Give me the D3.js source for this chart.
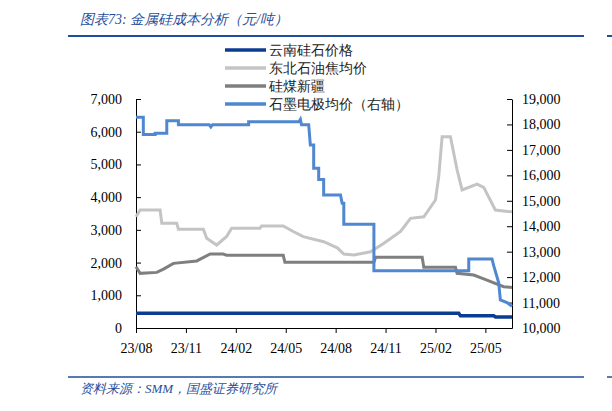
<!DOCTYPE html>
<html><head><meta charset="utf-8">
<script src="https://cdn.jsdelivr.net/npm/d3@7"></script>
<style>body{margin:0;background:#fff}svg{display:block}text{font-family:"Liberation Serif","DejaVu Serif",serif}</style>
</head><body><svg id="c" width="612" height="411"></svg>
<script>
// month index from 2023/08
const xTickLabels = ["23/08","23/11","24/02","24/05","24/08","24/11","25/02","25/05"];
const yunnan = [[0,448],[19.4,448],[19.5,377],[21.5,377],[21.6,340],[22.6,340]];
const petcoke = [[0,3400],[0.25,3607],[1.45,3607],[1.55,3200],[2.45,3200],[2.55,3017],[4.05,3017],[4.25,2742],[4.85,2537],[5.45,2800],[5.75,3048],[7.45,3048],[7.55,3118],[8.85,3118],[9.45,2950],[10.05,2792],[11.28,2638],[12.1,2450],[12.49,2262],[13.1,2230],[14.1,2330],[14.9,2589],[15.9,2950],[16.5,3353],[17.3,3400],[18.0,3913],[18.2,4650],[18.4,5848],[18.9,5848],[19.3,4830],[19.6,4219],[20.5,4400],[20.9,4300],[21.6,3607],[22.6,3550]];
const coal = [[0,1874],[0.25,1670],[1.25,1700],[1.65,1800],[2.25,1976],[3.65,2050],[4.46,2262],[5.25,2262],[5.45,2220],[8.85,2220],[8.95,2007],[14.3,2007],[14.4,2160],[17.2,2160],[17.3,1854],[19.2,1854],[19.3,1670],[20.3,1620],[20.9,1500],[22.1,1263],[22.6,1240]];
const electrode = [[0,18280],[0.44,18280],[0.44,17600],[1.15,17600],[1.15,17650],[1.85,17650],[1.85,18150],[2.55,18150],[2.55,17990],[4.4,17990],[4.5,17900],[4.6,17990],[6.77,17990],[6.77,18110],[9.8,18110],[9.88,18200],[9.95,17990],[10.38,17990],[10.48,17190],[10.68,17190],[10.68,16280],[10.98,16280],[10.98,15840],[11.28,15840],[11.28,15230],[12.29,15230],[12.39,14900],[12.49,14900],[12.49,14075],[14.3,14075],[14.3,12250],[20.0,12250],[20.0,12710],[21.4,12710],[21.5,12450],[21.8,11780],[21.9,11100],[22.3,11000],[22.6,10850]];
const leftTicks = [0,1000,2000,3000,4000,5000,6000,7000];
const rightTicks = [10000,11000,12000,13000,14000,15000,16000,17000,18000,19000];
const names = ["云南硅石价格","东北石油焦均价","硅煤新疆","石墨电极均价（右轴）"];
const colors = ["#0a3d91","#c4c4c4","#7f7f7f","#4f88d0"];

const svg = d3.select("#c");
const L=136,R=512,T=99,B=328;
const x = d3.scaleLinear().domain([0,22.6]).range([L,R]);
const yl = d3.scaleLinear().domain([0,7000]).range([B,T]);
const yr = d3.scaleLinear().domain([10000,19000]).range([B,T]);
const fmt = d3.format(",");

svg.append("text").attr("x",80).attr("y",24).attr("fill","#1f4e9c").attr("font-size",14).attr("font-style","italic").text("图表73:  金属硅成本分析（元/吨）");
svg.append("line").attr("x1",68).attr("x2",584).attr("y1",36).attr("y2",36).attr("stroke","#1f4e9c").attr("stroke-width",2);
svg.append("line").attr("x1",607).attr("x2",612).attr("y1",36).attr("y2",36).attr("stroke","#1f4e9c").attr("stroke-width",2);
svg.append("line").attr("x1",68).attr("x2",584).attr("y1",377).attr("y2",377).attr("stroke","#1f4e9c").attr("stroke-width",1.5);
svg.append("line").attr("x1",607).attr("x2",612).attr("y1",377).attr("y2",377).attr("stroke","#1f4e9c").attr("stroke-width",1.5);
svg.append("text").attr("x",80).attr("y",393).attr("fill","#1f4e9c").attr("font-size",13).attr("font-style","italic").text("资料来源：SMM，国盛证券研究所");

const ax = svg.append("g").attr("transform",`translate(0,${B})`).call(d3.axisBottom(x).tickValues(d3.range(0,22,3)).tickFormat((d,i)=>xTickLabels[i]).tickSize(5).tickSizeOuter(0));
const al = svg.append("g").attr("transform",`translate(${L},0)`).call(d3.axisLeft(yl).tickValues(leftTicks).tickFormat(fmt).tickSize(-5).tickSizeOuter(0).tickPadding(14));
const ar = svg.append("g").attr("transform",`translate(${R},0)`).call(d3.axisRight(yr).tickValues(rightTicks).tickFormat(fmt).tickSize(-5).tickSizeOuter(0).tickPadding(10));
[ax,al,ar].forEach(g=>{g.selectAll("text").attr("font-family","Liberation Sans, Arial, sans-serif").attr("font-size",14).attr("fill","#000");g.selectAll("line,path").attr("stroke","#000");});
ax.selectAll("text").attr("dy","1.2em");

const line = (ys)=>d3.line().x(d=>x(d[0])).y(d=>ys(d[1]));
svg.append("path").datum(petcoke).attr("d",line(yl)).attr("fill","none").attr("stroke",colors[1]).attr("stroke-width",3);
svg.append("path").datum(coal).attr("d",line(yl)).attr("fill","none").attr("stroke",colors[2]).attr("stroke-width",3);
svg.append("path").datum(electrode).attr("d",line(yr)).attr("fill","none").attr("stroke",colors[3]).attr("stroke-width",3);
svg.append("path").datum(yunnan).attr("d",line(yl)).attr("fill","none").attr("stroke",colors[0]).attr("stroke-width",3.5);

names.forEach((n,i)=>{
  const yy=50+i*18;
  svg.append("line").attr("x1",225).attr("x2",266).attr("y1",yy).attr("y2",yy).attr("stroke",colors[i]).attr("stroke-width",3.5);
  svg.append("text").attr("x",269).attr("y",yy+5).attr("font-size",14).attr("font-family","Noto Sans CJK SC").attr("fill","#222").text(n);
});
</script></body></html>
